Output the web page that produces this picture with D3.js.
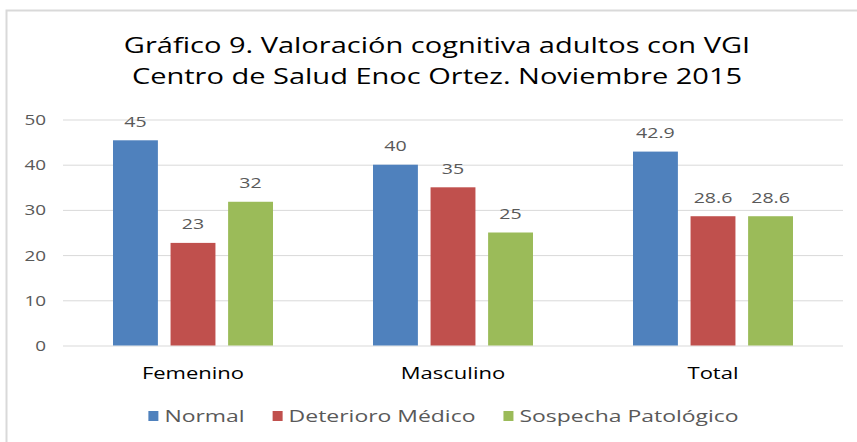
<!DOCTYPE html>
<html>
<head>
<meta charset="utf-8">
<script src="https://cdn.jsdelivr.net/npm/d3@7/dist/d3.min.js"></script>
<style>
  body { margin: 0; background: #fff; }
  text { font-family: "Open Sans", Lato, sans-serif; }
</style>
</head>
<body>
<div id="chart"></div>
<script>
// Chart data
const categories = ["Femenino", "Masculino", "Total"];
const seriesNames = ["Normal", "Deterioro Médico", "Sospecha Patológico"];
const normalValues = [45.4, 40, 42.9];
const deterioroValues = [22.7, 35, 28.6];
const sospechaValues = [31.8, 25, 28.6];
const normalLabels = ["45", "40", "42.9"];
const deterioroLabels = ["23", "35", "28.6"];
const sospechaLabels = ["32", "25", "28.6"];
const yTicks = [0, 10, 20, 30, 40, 50];
const titleLines = ["Gráfico 9. Valoración cognitiva adultos con VGI",
                    "Centro de Salud Enoc Ortez. Noviembre 2015"];
const colors = ["#4f81bd", "#c0504d", "#9bbb59"];

const width = 857;
const height = 442;
const SX = 1.35; // the source text is drawn wide

const plot = {left: 63, right: 843, top: 119.5, bottom: 345.5};

const svg = d3.select("#chart").append("svg")
  .attr("width", width)
  .attr("height", height);

// Chart border (runs off the right and bottom edges)
svg.append("rect")
  .attr("x", 6.5).attr("y", 10.5)
  .attr("width", 900).attr("height", 500)
  .attr("fill", "#fff")
  .attr("stroke", "#d9d9d9")
  .attr("stroke-width", 2);

// widen a text element around its anchor point
function stretch(sel) {
  sel.attr("transform", function() {
    const x = +this.getAttribute("x") || 0;
    const y = +this.getAttribute("y") || 0;
    return `translate(${x},${y}) scale(${SX},1)`;
  }).attr("x", 0).attr("y", 0);
}

// Title
svg.append("g").selectAll("text")
  .data(titleLines)
  .enter().append("text")
  .attr("x", 437)
  .attr("y", (d, i) => 53 + i * 31)
  .attr("text-anchor", "middle")
  .attr("font-size", 21.5)
  .attr("fill", "#000")
  .text(d => d)
  .call(stretch);

// Scales
const y = d3.scaleLinear().domain([0, 50]).range([plot.bottom, plot.top]);
const x0 = d3.scaleBand().domain(categories).range([plot.left, plot.right]);
const x1 = d3.scaleBand().domain(seriesNames).range([50, 210]).paddingInner(0.22);

// Y axis with gridlines
const yAxis = svg.append("g")
  .attr("transform", `translate(${plot.left},0)`)
  .call(d3.axisLeft(y).tickValues(yTicks).tickSize(-(plot.right - plot.left)).tickPadding(0));
yAxis.select(".domain").remove();
yAxis.selectAll(".tick line").attr("stroke", "#d9d9d9");
yAxis.selectAll(".tick text")
  .attr("x", -17)
  .attr("dy", "0.36em")
  .attr("font-size", 14)
  .attr("fill", "#595959")
  .call(stretch);

// Bars
const seriesData = [
  {name: seriesNames[0], values: normalValues, labels: normalLabels},
  {name: seriesNames[1], values: deterioroValues, labels: deterioroLabels},
  {name: seriesNames[2], values: sospechaValues, labels: sospechaLabels}
];

const groups = svg.append("g").selectAll("g")
  .data(seriesData)
  .enter().append("g")
  .attr("fill", (d, i) => colors[i]);

groups.selectAll("rect")
  .data(s => categories.map((c, i) => ({cat: c, series: s.name, value: s.values[i], label: s.labels[i]})))
  .enter().append("rect")
  .attr("x", d => x0(d.cat) + x1(d.series))
  .attr("width", x1.bandwidth())
  .attr("y", d => y(d.value))
  .attr("height", d => y(0) - y(d.value));

groups.selectAll("text")
  .data(s => categories.map((c, i) => ({cat: c, series: s.name, value: s.values[i], label: s.labels[i]})))
  .enter().append("text")
  .attr("x", d => x0(d.cat) + x1(d.series) + x1.bandwidth() / 2)
  .attr("y", d => y(d.value) - 13.5)
  .attr("text-anchor", "middle")
  .attr("font-size", 14.5)
  .attr("fill", "#595959")
  .text(d => d.label)
  .call(stretch);

// Category axis
const xAxis = svg.append("g")
  .attr("transform", `translate(0,${plot.bottom})`)
  .call(d3.axisBottom(x0).tickSize(0));
xAxis.select(".domain").remove();
xAxis.selectAll(".tick text")
  .attr("y", 33)
  .attr("dy", 0)
  .attr("font-size", 16.3)
  .attr("fill", "#000")
  .call(stretch);

// Legend
const legend = svg.append("g");
const items = legend.selectAll("g")
  .data(seriesNames)
  .enter().append("g");
items.append("rect")
  .attr("width", 10).attr("height", 10)
  .attr("y", -5)
  .attr("fill", (d, i) => colors[i]);
items.append("text")
  .attr("x", 16)
  .attr("y", 0)
  .attr("dy", "0.36em")
  .attr("font-size", 17)
  .attr("fill", "#595959")
  .text(d => d)
  .call(stretch);

let offset = 0;
const itemX = [];
items.each(function() {
  itemX.push(offset);
  const w = this.querySelector("text").getComputedTextLength() * SX;
  offset += 16 + w + 28;
});
const legendWidth = offset - 28;
const legendLeft = 443.5 - legendWidth / 2;
items.attr("transform", (d, i) => `translate(${legendLeft + itemX[i]},416)`);
</script>
</body>
</html>
